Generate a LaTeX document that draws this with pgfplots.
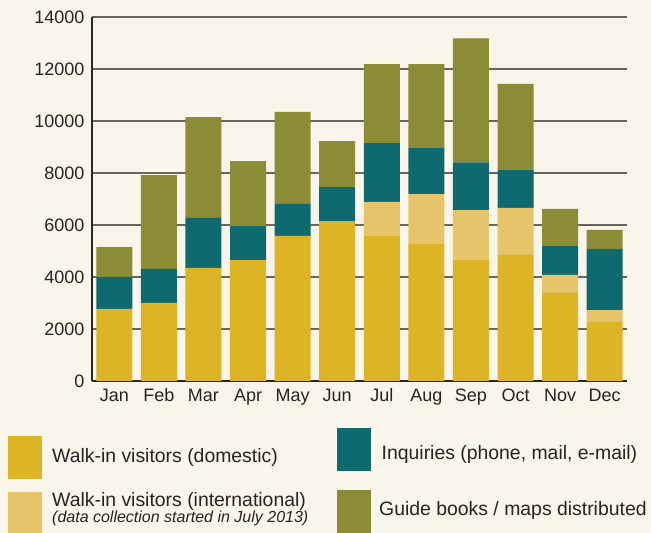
\documentclass[border=0pt]{standalone}
\usepackage{fontspec}
\setmainfont{Liberation Sans}
\usepackage{pgfplots}
\pgfplotsset{compat=1.18}
\definecolor{bg}{HTML}{F9F5EA}
\definecolor{cdom}{HTML}{DCB426}
\definecolor{cint}{HTML}{E6C56A}
\definecolor{cinq}{HTML}{0F6A70}
\definecolor{cgui}{HTML}{8C8C37}
\definecolor{gridc}{HTML}{69645D}
\definecolor{axisc}{HTML}{2B2724}
\definecolor{textc}{HTML}{262322}
\begin{document}
\begin{tikzpicture}[x=1pt,y=1pt]
\useasboundingbox (0,0) rectangle (651,533);
\fill[bg] (0,0) rectangle (651,533);
\begin{axis}[
  at={(92pt,152pt)}, anchor=south west,
  scale only axis, width=535pt, height=364pt,
  ybar stacked, bar width=36pt,
  xmin=-0.5, xmax=11.5, ymin=0, ymax=14000,
  xtick={0,...,11},
  xticklabels={Jan,Feb,Mar,Apr,May,Jun,Jul,Aug,Sep,Oct,Nov,Dec},
  ytick={0,2000,...,14000},
  scaled y ticks=false,
  ymajorgrids,
  grid style={color=gridc, line width=1.3pt},
  axis x line*=bottom, axis y line*=left,
  axis line style={line width=2pt, color=axisc, -},
  major tick length=0pt,
  tick style={draw=none},
  ticklabel style={font=\fontsize{18}{20}\selectfont, text=textc},
  yticklabel style={xshift=-4pt},
  xticklabel style={anchor=base, yshift=-21pt},
  /pgf/number format/1000 sep={},
  /pgf/number format/assume math mode=true,
]
\addplot[fill=cdom, draw=none] coordinates {(0,2770) (1,3000) (2,4350) (3,4650) (4,5580) (5,6150) (6,5580) (7,5270) (8,4650) (9,4850) (10,3390) (11,2270)};
\addplot[fill=cint, draw=none] coordinates {(0,0) (1,0) (2,0) (3,0) (4,0) (5,0) (6,1310) (7,1920) (8,1920) (9,1810) (10,690) (11,460)};
\addplot[fill=cinq, draw=none] coordinates {(0,1230) (1,1310) (2,1920) (3,1310) (4,1230) (5,1310) (6,2260) (7,1770) (8,1840) (9,1470) (10,1110) (11,2350)};
\addplot[fill=cgui, draw=none] coordinates {(0,1150) (1,3610) (2,3880) (3,2500) (4,3540) (5,1770) (6,3040) (7,3230) (8,4770) (9,3300) (10,1430) (11,730)};
\end{axis}
% legend
\fill[cdom] (8,54) rectangle (41.5,97);
\node[anchor=base west, inner sep=0pt, text=textc, font=\fontsize{19.4}{22}\selectfont] at (52,70) {Walk-in visitors (domestic)};
\fill[cint] (8,0) rectangle (41.5,41);
\node[anchor=base west, inner sep=0pt, text=textc, font=\fontsize{19.4}{22}\selectfont] at (52,26.5) {Walk-in visitors (international)};
\node[anchor=base west, inner sep=0pt, text=textc, font=\fontsize{16}{18}\selectfont\itshape] at (52,10.5) {(data collection started in July 2013)};
\fill[cinq] (337,62) rectangle (371,105);
\node[anchor=base west, inner sep=0pt, text=textc, font=\fontsize{19.4}{22}\selectfont] at (381.5,73) {Inquiries (phone, mail, e-mail)};
\fill[cgui] (337,0) rectangle (371,43);
\node[anchor=base west, inner sep=0pt, text=textc, font=\fontsize{19.4}{22}\selectfont] at (379,17) {Guide books / maps distributed};
\end{tikzpicture}
\end{document}
